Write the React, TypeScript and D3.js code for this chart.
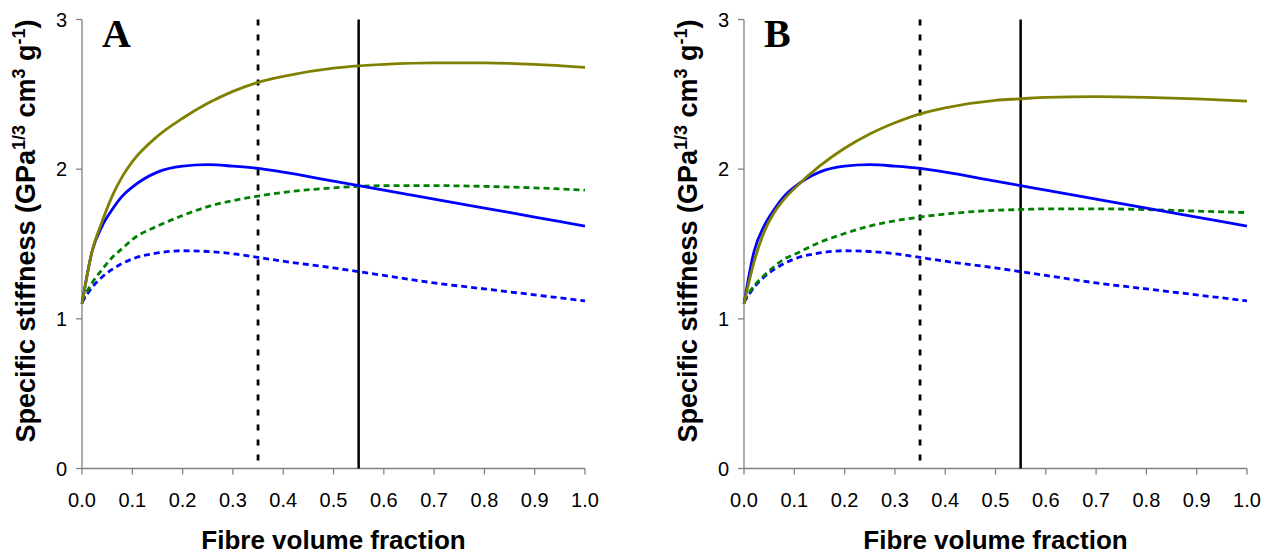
import React from "react";
import * as d3 from "d3";

const fibreFraction = [0, 0.02, 0.04, 0.06, 0.08, 0.1, 0.15, 0.2, 0.25, 0.3, 0.35, 0.4, 0.5, 0.55, 0.6, 0.7, 0.8, 0.9, 1.0];

// Panel A
const oliveA = [1.10, 1.45, 1.65, 1.82, 1.95, 2.05, 2.22, 2.34, 2.44, 2.52, 2.58, 2.62, 2.675, 2.69, 2.70, 2.71, 2.71, 2.70, 2.68];
const blueSolidA = [1.10, 1.45, 1.62, 1.73, 1.82, 1.88, 1.98, 2.02, 2.03, 2.02, 2.005, 1.98, 1.92, 1.89, 1.86, 1.80, 1.74, 1.68, 1.62];
const greenDashA = [1.12, 1.24, 1.33, 1.41, 1.47, 1.53, 1.62, 1.69, 1.75, 1.79, 1.82, 1.845, 1.875, 1.885, 1.89, 1.89, 1.885, 1.875, 1.86];
const blueDashA = [1.11, 1.21, 1.28, 1.33, 1.37, 1.40, 1.44, 1.455, 1.45, 1.435, 1.41, 1.385, 1.34, 1.315, 1.29, 1.24, 1.20, 1.16, 1.12];

// Panel B
const oliveB = [1.10, 1.38, 1.58, 1.71, 1.80, 1.87, 2.02, 2.14, 2.235, 2.31, 2.37, 2.41, 2.46, 2.47, 2.48, 2.485, 2.48, 2.47, 2.455];
const blueSolidB = [1.10, 1.45, 1.62, 1.73, 1.82, 1.88, 1.98, 2.02, 2.03, 2.02, 2.005, 1.98, 1.92, 1.89, 1.86, 1.80, 1.74, 1.68, 1.62];
const greenDashB = [1.12, 1.22, 1.29, 1.35, 1.40, 1.43, 1.51, 1.57, 1.62, 1.655, 1.68, 1.70, 1.725, 1.73, 1.735, 1.735, 1.73, 1.72, 1.71];
const blueDashB = [1.11, 1.21, 1.28, 1.33, 1.37, 1.40, 1.44, 1.455, 1.45, 1.435, 1.41, 1.385, 1.34, 1.315, 1.29, 1.24, 1.20, 1.16, 1.12];

const xTicks = [0, 0.1, 0.2, 0.3, 0.4, 0.5, 0.6, 0.7, 0.8, 0.9, 1.0];
const yTicks = [0, 1, 2, 3];
const refLines = [
  { x: 0.35, dashed: true },
  { x: 0.55, dashed: false },
];

const panels = [
  { label: "A", left: 82, olive: oliveA, blueSolid: blueSolidA, greenDash: greenDashA, blueDash: blueDashA },
  { label: "B", left: 744, olive: oliveB, blueSolid: blueSolidB, greenDash: greenDashB, blueDash: blueDashB },
];

const W = 1271;
const H = 556;
const plotW = 503;
const yTop = 19.5;
const yBottom = 468.5;
const font = "'Liberation Sans', Arial, sans-serif";
const axisColor = "#808080";

function Panel({ p }: { p: typeof panels[number] }) {
  const x = d3.scaleLinear().domain([0, 1]).range([p.left, p.left + plotW]);
  const y = d3.scaleLinear().domain([0, 3]).range([yBottom, yTop]);
  const line = d3
    .line<number>()
    .x((_, i) => x(fibreFraction[i]))
    .y((d) => y(d))
    .curve(d3.curveMonotoneX);

  const series = [
    { data: p.blueDash, color: "#0000FF", dash: "6,4" },
    { data: p.greenDash, color: "#008000", dash: "6,4" },
    { data: p.blueSolid, color: "#0000FF", dash: undefined },
    { data: p.olive, color: "#808000", dash: undefined },
  ];

  const titleX = p.left - 47;
  const titleY = 231;

  return (
    <g>
      {/* axes */}
      <line x1={p.left} x2={p.left} y1={yTop} y2={yBottom} stroke={axisColor} strokeWidth={1.3} />
      <line x1={p.left} x2={p.left + plotW} y1={yBottom} y2={yBottom} stroke={axisColor} strokeWidth={1.3} />
      {yTicks.map((t) => (
        <g key={"y" + t}>
          <line x1={p.left - 6} x2={p.left} y1={y(t)} y2={y(t)} stroke={axisColor} strokeWidth={1.3} />
          <text x={p.left - 15} y={y(t)} dy="0.36em" textAnchor="end" fontFamily={font} fontSize={20} fill="#000">
            {t}
          </text>
        </g>
      ))}
      {xTicks.map((t) => (
        <g key={"x" + t}>
          <line x1={x(t)} x2={x(t)} y1={yBottom} y2={yBottom + 6} stroke={axisColor} strokeWidth={1.3} />
          <text x={x(t)} y={507} textAnchor="middle" fontFamily={font} fontSize={20} fill="#000">
            {t.toFixed(1)}
          </text>
        </g>
      ))}
      {/* reference lines */}
      {refLines.map((r) => (
        <line
          key={"r" + r.x}
          x1={x(r.x)}
          x2={x(r.x)}
          y1={y(3)}
          y2={y(0)}
          stroke="#000"
          strokeWidth={r.dashed ? 2.8 : 2.5}
          strokeDasharray={r.dashed ? "6,9" : undefined}
        />
      ))}
      {/* curves */}
      {series.map((s, i) => (
        <path
          key={i}
          d={line(s.data) || ""}
          fill="none"
          stroke={s.color}
          strokeWidth={2.8}
          strokeDasharray={s.dash}
        />
      ))}
      {/* panel letter */}
      <text x={p.left + 20} y={47} fontFamily="'Liberation Serif', 'Times New Roman', serif" fontWeight="bold" fontSize={40} fill="#000">
        {p.label}
      </text>
      {/* axis titles */}
      <text
        x={p.left + plotW / 2}
        y={549}
        textAnchor="middle"
        fontFamily={font}
        fontWeight="bold"
        fontSize={26}
        fill="#000"
      >
        Fibre volume fraction
      </text>
      <text
        transform={`translate(${titleX},${titleY}) rotate(-90)`}
        textAnchor="middle"
        fontFamily={font}
        fontWeight="bold"
        fontSize={27}
        fill="#000"
      >
        Specific stiffness (GPa
        <tspan fontSize={18} dy={-10}>1/3</tspan>
        <tspan dy={10}> cm</tspan>
        <tspan fontSize={18} dy={-10}>3</tspan>
        <tspan dy={10}> g</tspan>
        <tspan fontSize={18} dy={-10}>-1</tspan>
        <tspan dy={10}>)</tspan>
      </text>
    </g>
  );
}

export default function App() {
  return (
    <svg
      width={W}
      height={H}
      viewBox={`0 0 ${W} ${H}`}
      style={{ position: "absolute", left: 0, top: 0, background: "#fff" }}
    >
      <rect width={W} height={H} fill="#fff" />
      {panels.map((p) => (
        <Panel key={p.label} p={p} />
      ))}
    </svg>
  );
}
